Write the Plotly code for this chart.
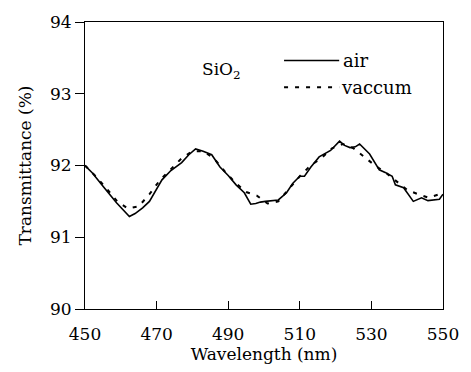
import plotly.graph_objects as go

# Data
air_wl = [450, 452, 455.2, 458.8, 462.4, 464, 466.1, 468, 471.5, 474, 477, 479, 480.9, 483, 485.4,
          487.7, 490, 492.2, 494.5, 496.3, 497.7, 499, 500.4, 504, 506.3, 508, 510, 511.3, 513.1,
          515.4, 518.6, 521.1, 522.5, 524, 525.5, 526.7, 529.5, 532.2, 534, 535.8, 536.7, 539,
          541.7, 544, 545.8, 549, 550]
air_t = [92.0, 91.9, 91.70, 91.48, 91.29, 91.33, 91.41, 91.5, 91.8, 91.93, 92.04, 92.15, 92.23,
         92.2, 92.15, 91.98, 91.86, 91.73, 91.62, 91.46, 91.47, 91.49, 91.5, 91.52, 91.62, 91.75,
         91.85, 91.85, 91.98, 92.12, 92.21, 92.34, 92.28, 92.25, 92.26, 92.30, 92.16, 91.94, 91.9,
         91.85, 91.73, 91.69, 91.5, 91.55, 91.51, 91.53, 91.6]

vac_wl = [450, 453, 456, 459, 462, 465, 468, 471, 474, 477, 480, 483, 486, 489, 492, 495, 498,
          501, 504, 507, 510, 513, 516, 519, 522, 525, 528, 531, 534, 537, 540, 543, 546, 549, 550]
vac_t = [92.0, 91.85, 91.68, 91.5, 91.4, 91.43, 91.6, 91.8, 91.95, 92.1, 92.2, 92.2, 92.1, 91.92,
         91.76, 91.63, 91.58, 91.47, 91.5, 91.68, 91.85, 92.0, 92.1, 92.24, 92.3, 92.24, 92.12,
         92.0, 91.9, 91.78, 91.66, 91.6, 91.55, 91.6, 91.62]

x_ticks = [450, 470, 490, 510, 530, 550]
y_ticks = [90, 91, 92, 93, 94]

FONT = "DejaVu Serif"
DASH = "4px,7px"

fig = go.Figure()
fig.add_trace(go.Scatter(x=air_wl, y=air_t, mode="lines", name="air",
                         line=dict(color="black", width=1.6)))
fig.add_trace(go.Scatter(x=vac_wl, y=vac_t, mode="lines", name="vaccum",
                         line=dict(color="black", width=2, dash=DASH)))

# legend drawn manually
fig.add_shape(type="line", xref="paper", yref="paper", x0=0.556, x1=0.71, y0=0.866, y1=0.866,
              line=dict(color="black", width=1.6))
fig.add_shape(type="line", xref="paper", yref="paper", x0=0.556, x1=0.71, y0=0.773, y1=0.773,
              line=dict(color="black", width=2, dash=DASH))
fig.add_annotation(xref="paper", yref="paper", x=0.715, y=0.866, text="air", showarrow=False,
                   xanchor="left", yanchor="middle", font=dict(family=FONT, size=18, color="black"))
fig.add_annotation(xref="paper", yref="paper", x=0.71, y=0.773, text="vaccum", showarrow=False,
                   xanchor="left", yanchor="middle", font=dict(family=FONT, size=18, color="black"))
fig.add_annotation(xref="paper", yref="paper", x=0.32, y=0.83, text="SiO<sub>2</sub>", showarrow=False,
                   xanchor="left", yanchor="middle", font=dict(family=FONT, size=17, color="black"))

fig.update_layout(
    width=471, height=372,
    margin=dict(l=85, r=19, t=15, b=63),
    paper_bgcolor="white", plot_bgcolor="white",
    showlegend=False,
    font=dict(family=FONT, size=17, color="black"),
)
fig.update_xaxes(range=[450, 550], tickvals=x_ticks, ticks="inside", ticklen=8, tickcolor="black",
                 ticklabelstandoff=10,
                 showline=True, linecolor="black", linewidth=1, mirror=True, showgrid=False,
                 zeroline=False, title=dict(text="Wavelength (nm)", standoff=2,
                                            font=dict(family=FONT, size=17)))
fig.update_yaxes(range=[90, 94], tickvals=y_ticks, ticks="outside", ticklen=9, tickcolor="black",
                 showline=True, linecolor="black", linewidth=1, mirror=True, showgrid=False,
                 zeroline=False, title=dict(text="Transmittance (%)", standoff=14,
                                            font=dict(family=FONT, size=17)))

fig.write_html("out.html")
